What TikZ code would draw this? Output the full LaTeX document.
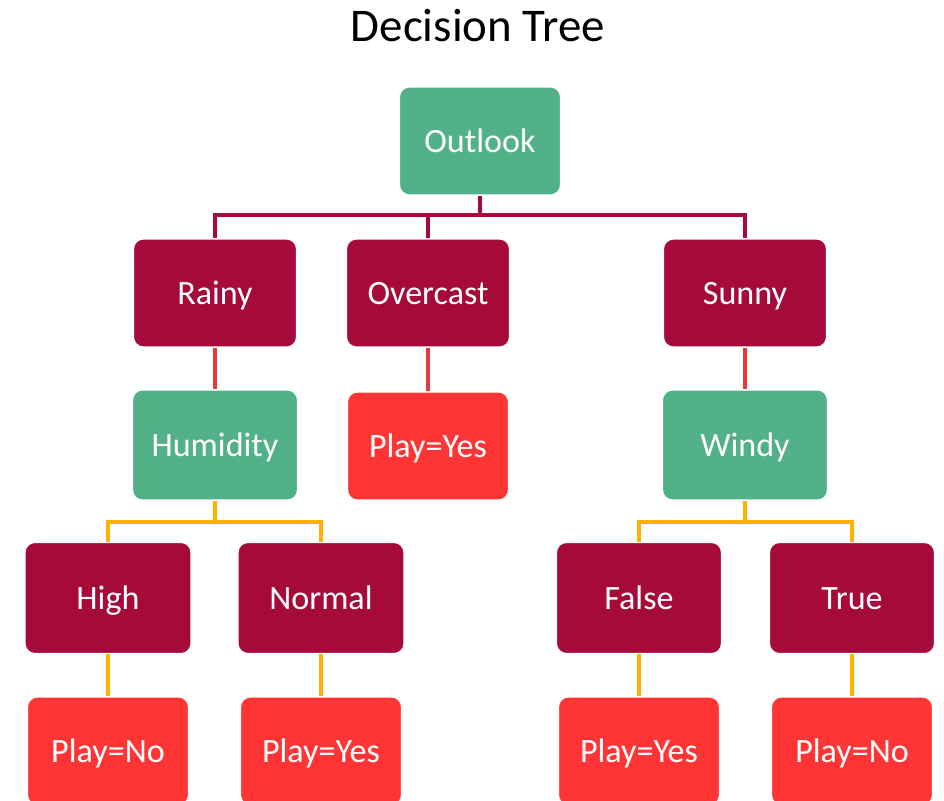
\documentclass[tikz,border=0pt]{standalone}
\usepackage{fontspec}
\setmainfont{Carlito}
\definecolor{nodegreen}{HTML}{52B188}
\definecolor{nodewine}{HTML}{A50A3A}
\definecolor{leafred}{HTML}{FF3535}
\definecolor{linered}{HTML}{E8383A}
\definecolor{lineorange}{HTML}{FFB000}
\tikzset{
  box/.style={rounded corners=0.2cm, text=white, draw=white, line width=0.6pt,
    font=\fontsize{19.4}{23}\selectfont, inner sep=0pt,
    text height=12.6pt, text depth=0pt},
  attrbox/.style={box, fill=nodegreen, minimum width=3.3cm, minimum height=2.2cm},
  valbox/.style={box, fill=nodewine, minimum width=3.26cm, minimum height=2.16cm},
  leafbox/.style={box, fill=leafred, minimum width=3.22cm, minimum height=2.16cm},
  wineline/.style={draw=nodewine, line width=1.8pt},
  redline/.style={draw=linered, line width=1.8pt},
  orangeline/.style={draw=lineorange, line width=1.8pt}
}
\begin{document}
\begin{tikzpicture}[x=0.02cm, y=-0.02cm]
\useasboundingbox (0,0) rectangle (944,801);
%title
\node (title) at (478,26) {\fontsize{26.7}{32}\selectfont Decision Tree};
%root
\node[attrbox, minimum width=3.22cm, minimum height=2.16cm] (outlook) at (480,141) {Outlook};
%first level
\node[valbox] (rainy) at (215,293) {Rainy};
\node[valbox] (overcast) at (428,293) {Overcast};
\node[valbox] (sunny) at (745,293) {Sunny};
\coordinate (split1) at (480,215);
\draw[wineline] (outlook.south) -- (split1);
\draw[wineline] (rainy.north) |- (split1) -| (sunny.north);
\draw[wineline] (overcast.north) -- (overcast.north |- split1);
%second level
\node[attrbox] (humidity) at (215,445) {Humidity};
\node[leafbox] (overyes) at (428,446) {Play=Yes};
\node[attrbox] (windy) at (745,445) {Windy};
\draw[redline] (rainy.south) -- (humidity.north);
\draw[redline] (overcast.south) -- (overyes.north);
\draw[redline] (sunny.south) -- (windy.north);
%third level
\node[valbox, minimum width=3.32cm, minimum height=2.22cm] (high) at (108,598) {High};
\node[valbox, minimum width=3.32cm, minimum height=2.22cm] (normal) at (321,598) {Normal};
\node[valbox, minimum width=3.3cm, minimum height=2.22cm] (false) at (639,598) {False};
\node[valbox, minimum width=3.3cm, minimum height=2.22cm] (true) at (852,598) {True};
\coordinate (split2) at (215,522);
\coordinate (split3) at (745,522);
\draw[orangeline] (humidity.south) -- (split2);
\draw[orangeline] (high.north) |- (split2) -| (normal.north);
\draw[orangeline] (windy.south) -- (split3);
\draw[orangeline] (false.north) |- (split3) -| (true.north);
%leaves
\node[leafbox] (highno) at (108,751) {Play=No};
\node[leafbox] (normalyes) at (321,751) {Play=Yes};
\node[leafbox] (falseyes) at (639,751) {Play=Yes};
\node[leafbox] (trueno) at (852,751) {Play=No};
\draw[orangeline] (high.south) -- (highno.north);
\draw[orangeline] (normal.south) -- (normalyes.north);
\draw[orangeline] (false.south) -- (falseyes.north);
\draw[orangeline] (true.south) -- (trueno.north);
\end{tikzpicture}
\end{document}
